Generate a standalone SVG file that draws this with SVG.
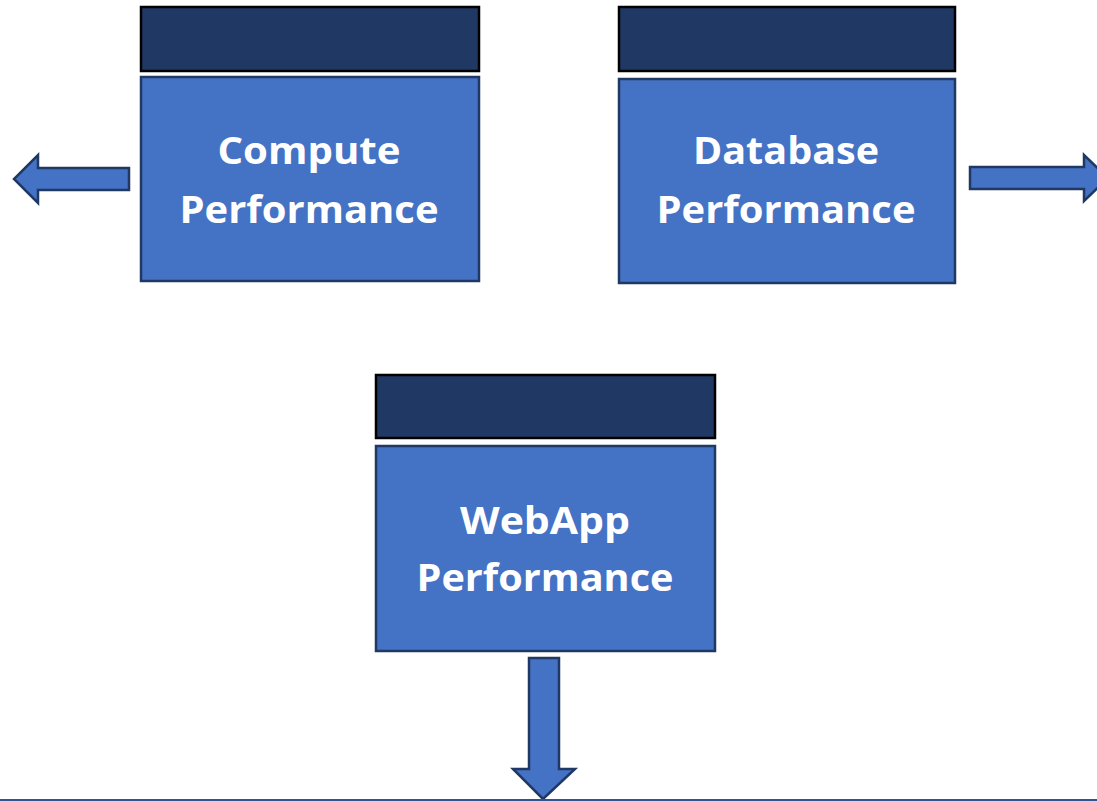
<svg xmlns="http://www.w3.org/2000/svg" width="1097" height="801" viewBox="0 0 1097 801">
<style>
.hdr{fill:#203864;stroke:#000;stroke-width:2.5}
.body{fill:#4472C4;stroke:#1F3864;stroke-width:2.5}
.arrow{fill:#4472C4;stroke:#1F3864;stroke-width:2.5;stroke-linejoin:miter}
.lbl{font-family:"Open Sans","Noto Sans",sans-serif;font-weight:bold;font-size:38px;fill:#fff;text-anchor:middle}
</style>
<rect width="1097" height="801" fill="#fff"/>
<g id="compute">
<rect class="hdr" x="141" y="7" width="338" height="64"/>
<rect class="body" x="141" y="77" width="338" height="204"/>
<text class="lbl" x="309" y="164" textLength="183" lengthAdjust="spacingAndGlyphs">Compute</text>
<text class="lbl" x="309" y="223" textLength="259" lengthAdjust="spacingAndGlyphs">Performance</text>
</g>
<g id="database">
<rect class="hdr" x="619" y="7" width="336" height="64"/>
<rect class="body" x="619" y="79" width="336" height="204"/>
<text class="lbl" x="786" y="164" textLength="186" lengthAdjust="spacingAndGlyphs">Database</text>
<text class="lbl" x="786" y="223" textLength="259" lengthAdjust="spacingAndGlyphs">Performance</text>
</g>
<g id="webapp">
<rect class="hdr" x="376" y="375" width="339" height="63"/>
<rect class="body" x="376" y="446" width="339" height="205"/>
<text class="lbl" x="545" y="534" textLength="170" lengthAdjust="spacingAndGlyphs">WebApp</text>
<text class="lbl" x="545" y="591" textLength="257" lengthAdjust="spacingAndGlyphs">Performance</text>
</g>
<g id="connectors">
<polygon class="arrow" points="129,168 38,168 38,155 14,179 38,203 38,190 129,190"/>
<polygon class="arrow" points="970,167 1084,167 1084,155 1108,178 1084,201 1084,189 970,189"/>
<polygon class="arrow" points="529,658 559,658 559,769 575,769 543,799 513,769 529,769"/>
</g>
<line x1="0" y1="800" x2="1097" y2="800" stroke="#2F5597" stroke-width="2"/>
</svg>
